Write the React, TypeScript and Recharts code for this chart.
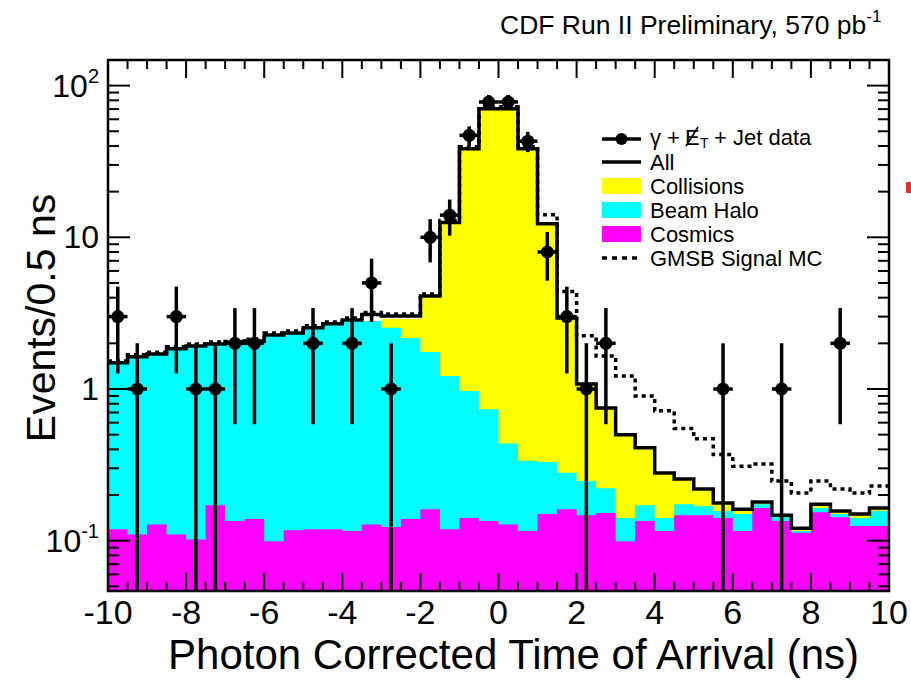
import { ComposedChart, Area, Line, Scatter, ErrorBar, XAxis, YAxis } from "recharts";

// Photon arrival time, 0.5 ns bins (lower edges)
const binLow = [
  -10, -9.5, -9, -8.5, -8, -7.5, -7, -6.5, -6, -5.5, -5, -4.5, -4, -3.5, -3, -2.5, -2, -1.5, -1, -0.5,
  0, 0.5, 1, 1.5, 2, 2.5, 3, 3.5, 4, 4.5, 5, 5.5, 6, 6.5, 7, 7.5, 8, 8.5, 9, 9.5,
];
const X_MAX = 10;
const BIN_HALF = 0.25;

// background components (events / 0.5 ns)
const cosmics = [
  0.119, 0.11, 0.128, 0.11, 0.102, 0.171, 0.135, 0.139, 0.099, 0.117, 0.119, 0.119, 0.116, 0.128, 0.123, 0.139, 0.161, 0.119, 0.141, 0.135,
  0.128, 0.116, 0.15, 0.161, 0.147, 0.152, 0.099, 0.135, 0.116, 0.147, 0.147, 0.141, 0.116, 0.164, 0.135, 0.113, 0.154, 0.143, 0.125, 0.125,
];
const beamHalo = [
  1.37, 1.52, 1.57, 1.73, 1.82, 1.81, 1.87, 1.93, 2.17, 2.22, 2.41, 2.57, 2.73, 2.68, 2.41, 2.03, 1.59, 1.1, 0.83, 0.6,
  0.31, 0.22, 0.18, 0.12, 0.1, 0.07, 0.042, 0.036, 0.025, 0.027, 0.022, 0.016, 0.034, 0.01, 0.01, 0.003, 0.01, 0.007, 0.016, 0.032,
];
const collisions = [
  0, 0, 0, 0, 0, 0, 0, 0, 0, 0, 0, 0, 0, 0, 0.37, 0.73, 2.35, 11.3, 37.4, 69.8,
  70.1, 38.1, 12.0, 2.66, 0.83, 0.53, 0.36, 0.24, 0.138, 0.081, 0.05, 0.02, 0.011, 0.006, 0.002, 0.005, 0.01, 0.007, 0.009, 0.007,
];
const allBkg = [
  1.49, 1.63, 1.7, 1.84, 1.92, 1.98, 2.0, 2.07, 2.27, 2.34, 2.53, 2.69, 2.85, 3.1, 3.03, 3.03, 4.11, 12.5, 38.4, 70.5,
  70.5, 38.4, 12.3, 2.94, 1.08, 0.75, 0.5, 0.41, 0.279, 0.255, 0.219, 0.177, 0.161, 0.18, 0.147, 0.121, 0.174, 0.157, 0.15, 0.164,
];
const gmsbSignal = [
  1.53, 1.68, 1.75, 1.9, 1.98, 2.04, 2.06, 2.13, 2.34, 2.41, 2.61, 2.77, 2.94, 3.19, 3.12, 3.12, 4.23, 12.9, 39.5, 72.5,
  72.5, 39.5, 14.1, 4.4, 2.24, 1.65, 1.22, 0.9, 0.72, 0.55, 0.47, 0.37, 0.31, 0.32, 0.247, 0.206, 0.247, 0.219, 0.206, 0.229,
];
const dataCounts = [
  3, 1, 0, 3, 1, 1, 2, 2, 0, 0, 2, 0, 2, 5, 1, 0, 10, 14, 47, 78,
  78, 43, 8, 3, 1, 2, 0, 0, 0, 0, 0, 1, 0, 0, 1, 0, 0, 2, 0, 0,
];

const xTicks = [
  -10, -9.5, -9, -8.5, -8, -7.5, -7, -6.5, -6, -5.5, -5, -4.5, -4, -3.5, -3, -2.5, -2, -1.5, -1, -0.5,
  0, 0.5, 1, 1.5, 2, 2.5, 3, 3.5, 4, 4.5, 5, 5.5, 6, 6.5, 7, 7.5, 8, 8.5, 9, 9.5, 10,
];
const yTicks = [
  0.05, 0.06, 0.07, 0.08, 0.09, 0.1, 0.2, 0.3, 0.4, 0.5, 0.6, 0.7, 0.8, 0.9,
  1, 2, 3, 4, 5, 6, 7, 8, 9, 10, 20, 30, 40, 50, 60, 70, 80, 90, 100,
];
const yLabels: Record<string, [string, string]> = {
  "100": ["10", "2"],
  "10": ["10", ""],
  "1": ["1", ""],
  "0.1": ["10", "-1"],
};

const Y_MIN = 0.0466;
const Y_MAX = 147.5;

const W = 911;
const H = 683;
const PLOT = { left: 108, top: 60, right: 889, bottom: 591 };
const FONT = "'Liberation Sans', Arial, Helvetica, sans-serif";

const YELLOW = "#ffff00";
const CYAN = "#00ffff";
const MAGENTA = "#ff00ff";

// step histogram rows: one per bin edge, last edge repeats the final bin
const rows = [...binLow, X_MAX].map((x, i) => {
  const k = Math.min(i, binLow.length - 1);
  const c = cosmics[k];
  const h = c + beamHalo[k];
  return {
    x,
    cosmics: c,
    halo: h,
    total: h + collisions[k],
    all: allBkg[k],
    gmsb: gmsbSignal[k],
  };
});

const points = binLow
  .map((lo, i) => {
    const n = dataCounts[i];
    const s = Math.sqrt(n);
    return {
      x: lo + BIN_HALF,
      y: n,
      yErr: [n - Math.max(n - s, Y_MIN), s],
      xErr: BIN_HALF,
    };
  })
  .filter((p) => p.y > 0);

function XTick(props: any) {
  const { x, y, payload } = props;
  const v = payload.value as number;
  const major = Math.abs(v % 2) < 1e-9;
  const len = major ? 18 : 9;
  const edge = v === -10 || v === 10;
  return (
    <g>
      {!edge && (
        <>
          <line x1={x} x2={x} y1={y} y2={y - len} stroke="#000" strokeWidth={2} />
          <line x1={x} x2={x} y1={PLOT.top} y2={PLOT.top + len} stroke="#000" strokeWidth={2} />
        </>
      )}
      {major && (
        <text x={x} y={y + 33} textAnchor="middle" fontSize={34} fontFamily={FONT} fill="#000">
          {`${v}`}
        </text>
      )}
    </g>
  );
}

function YTick(props: any) {
  const { x, y, payload } = props;
  const v = payload.value as number;
  const lg = Math.log10(v);
  const major = Math.abs(lg - Math.round(lg)) < 1e-6;
  const len = major ? 22 : 11;
  const label = yLabels[String(v)];
  return (
    <g>
      <line x1={x} x2={x + len} y1={y} y2={y} stroke="#000" strokeWidth={2} />
      <line x1={PLOT.right} x2={PLOT.right - len} y1={y} y2={y} stroke="#000" strokeWidth={2} />
      {label && (
        <text x={x - 9} y={y + 11} textAnchor="end" fontSize={32} fontFamily={FONT} fill="#000">
          {label[0]}
          {label[1] && (
            <tspan fontSize={20} dy={-14}>
              {label[1]}
            </tspan>
          )}
        </text>
      )}
    </g>
  );
}

function DataMarker(props: any) {
  const { cx, cy } = props;
  return <circle cx={cx} cy={cy} r={6.5} fill="#000" />;
}

function Legend() {
  const lx = 602;
  const rx = 641;
  const tx = 650;
  const rowsY = [139, 162, 186, 210, 234, 258];
  return (
    <g fontFamily={FONT} fontSize={22} fill="#000">
      {/* data */}
      <line x1={lx} x2={rx} y1={rowsY[0]} y2={rowsY[0]} stroke="#000" strokeWidth={3.5} />
      <circle cx={(lx + rx) / 2} cy={rowsY[0]} r={6} fill="#000" />
      <text x={tx} y={rowsY[0] + 6}>γ +</text>
      <text x={685} y={rowsY[0] + 6}>E</text>
      <line x1={686} x2={698} y1={rowsY[0] + 7} y2={rowsY[0] - 12} stroke="#000" strokeWidth={1.6} />
      <text x={700} y={rowsY[0] + 9} fontSize={14}>T</text>
      <text x={714} y={rowsY[0] + 6}>+ Jet data</text>
      {/* All */}
      <line x1={lx} x2={rx} y1={rowsY[1]} y2={rowsY[1]} stroke="#000" strokeWidth={3.5} />
      <text x={tx} y={rowsY[1] + 8}>All</text>
      {/* filled boxes */}
      <rect x={lx} y={rowsY[2] - 8} width={rx - lx} height={16} fill={YELLOW} />
      <text x={tx} y={rowsY[2] + 8}>Collisions</text>
      <rect x={lx} y={rowsY[3] - 8} width={rx - lx} height={16} fill={CYAN} />
      <text x={tx} y={rowsY[3] + 8}>Beam Halo</text>
      <rect x={lx} y={rowsY[4] - 8} width={rx - lx} height={16} fill={MAGENTA} />
      <text x={tx} y={rowsY[4] + 8}>Cosmics</text>
      {/* GMSB */}
      <line x1={lx} x2={rx} y1={rowsY[5]} y2={rowsY[5]} stroke="#000" strokeWidth={3.5} strokeDasharray="5 5" />
      <text x={tx} y={rowsY[5] + 8}>GMSB Signal MC</text>
    </g>
  );
}

export default function App() {
  return (
    <div style={{ position: "absolute", left: 0, top: 0, width: W, height: H, background: "#fff" }}>
      <ComposedChart
        width={W}
        height={H}
        data={rows}
        margin={{ top: PLOT.top, right: W - PLOT.right, bottom: 0, left: 0 }}
      >
        <Area
          type="stepAfter"
          dataKey="total"
          stroke="none"
          fill={YELLOW}
          fillOpacity={1}
          baseValue="dataMin"
          isAnimationActive={false}
        />
        <Area
          type="stepAfter"
          dataKey="halo"
          stroke="none"
          fill={CYAN}
          fillOpacity={1}
          baseValue="dataMin"
          isAnimationActive={false}
        />
        <Area
          type="stepAfter"
          dataKey="cosmics"
          stroke="none"
          fill={MAGENTA}
          fillOpacity={1}
          baseValue="dataMin"
          isAnimationActive={false}
        />
        <Line
          type="stepAfter"
          dataKey="all"
          stroke="#000"
          strokeWidth={3.5}
          dot={false}
          isAnimationActive={false}
        />
        <Line
          type="stepAfter"
          dataKey="gmsb"
          stroke="#000"
          strokeWidth={3.5}
          strokeDasharray="4 4"
          dot={false}
          isAnimationActive={false}
        />
        <Scatter data={points} dataKey="y" shape={DataMarker} isAnimationActive={false}>
          <ErrorBar dataKey="yErr" direction="y" width={0} stroke="#000" strokeWidth={3.5} />
          <ErrorBar dataKey="xErr" direction="x" width={0} stroke="#000" strokeWidth={3.5} />
        </Scatter>
        <XAxis
          dataKey="x"
          type="number"
          domain={[-10, X_MAX]}
          allowDataOverflow
          ticks={xTicks}
          interval={0}
          height={H - PLOT.bottom}
          tickSize={0}
          tickMargin={0}
          tickLine={false}
          axisLine={false}
          tick={XTick}
        />
        <YAxis
          type="number"
          scale="log"
          domain={[Y_MIN, Y_MAX]}
          allowDataOverflow
          ticks={yTicks}
          interval={0}
          width={PLOT.left}
          tickSize={0}
          tickMargin={0}
          tickLine={false}
          axisLine={false}
          tick={YTick}
        />
      </ComposedChart>
      <svg
        width={W}
        height={H}
        style={{ position: "absolute", left: 0, top: 0, pointerEvents: "none" }}
      >
        <rect
          x={PLOT.left}
          y={PLOT.top}
          width={PLOT.right - PLOT.left}
          height={PLOT.bottom - PLOT.top}
          fill="none"
          stroke="#000"
          strokeWidth={2.5}
        />
        <text x={500} y={34} fontFamily={FONT} fontSize={26.5} fill="#000">
          CDF Run II Preliminary, 570 pb
          <tspan fontSize={17} dy={-12}>-1</tspan>
        </text>
        <Legend />
        <text x={859} y={669} textAnchor="end" fontFamily={FONT} fontSize={42} fill="#000">
          Photon Corrected Time of Arrival (ns)
        </text>
        <text
          x={55}
          y={318}
          textAnchor="middle"
          fontFamily={FONT}
          fontSize={41}
          fill="#000"
          transform="rotate(-90 55 318)"
        >
          Events/0.5 ns
        </text>
        <rect x={906} y={182} width={5} height={11} fill="#e03030" />
      </svg>
    </div>
  );
}
